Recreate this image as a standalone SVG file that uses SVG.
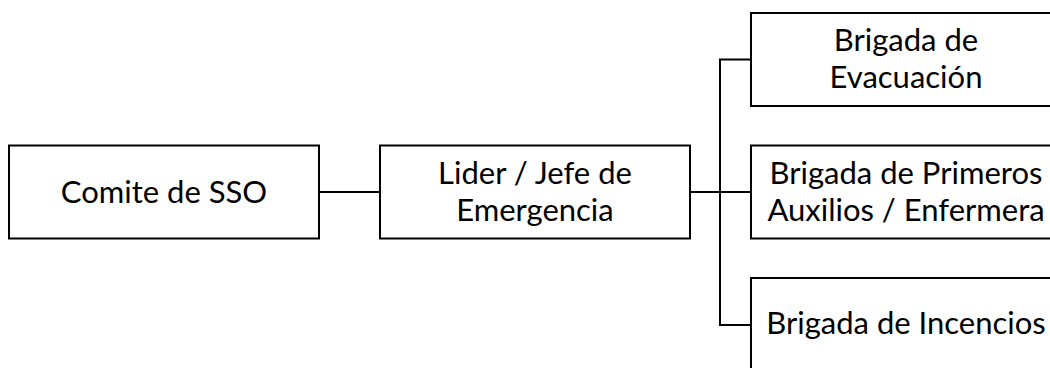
<svg xmlns="http://www.w3.org/2000/svg" width="1050" height="368" viewBox="0 0 1050 368">
<style>
.box{fill:#fff;stroke:#000;stroke-width:2}
.lbl{font-family:Lato,"Open Sans","Liberation Sans",sans-serif;font-size:31px;fill:#000;text-anchor:middle}
.con{fill:none;stroke:#000;stroke-width:2}
</style>
<rect width="1050" height="368" fill="#fff"/>
<g id="connectors">
<line class="con" x1="319" y1="192" x2="380" y2="192"/>
<line class="con" x1="690" y1="192" x2="751" y2="192"/>
<path class="con" d="M751 59.5H720V325H751"/>
</g>
<g id="comite">
<rect class="box" x="9" y="145.5" width="310" height="93"/>
<text class="lbl" x="164" y="203">Comite de SSO</text>
</g>
<g id="lider">
<rect class="box" x="380" y="145.5" width="310" height="93"/>
<text class="lbl" x="535" y="184">Lider / Jefe de</text>
<text class="lbl" x="535" y="221">Emergencia</text>
</g>
<g id="evacuacion">
<rect class="box" x="751" y="13" width="310" height="93"/>
<text class="lbl" x="906" y="50.5">Brigada de</text>
<text class="lbl" x="906" y="88">Evacuación</text>
</g>
<g id="primeros">
<rect class="box" x="751" y="145.5" width="310" height="93"/>
<text class="lbl" x="906" y="184">Brigada de Primeros</text>
<text class="lbl" x="906" y="221">Auxilios / Enfermera</text>
</g>
<g id="incendios">
<rect class="box" x="751" y="278" width="310" height="93"/>
<text class="lbl" x="906" y="334">Brigada de Incencios</text>
</g>
</svg>
